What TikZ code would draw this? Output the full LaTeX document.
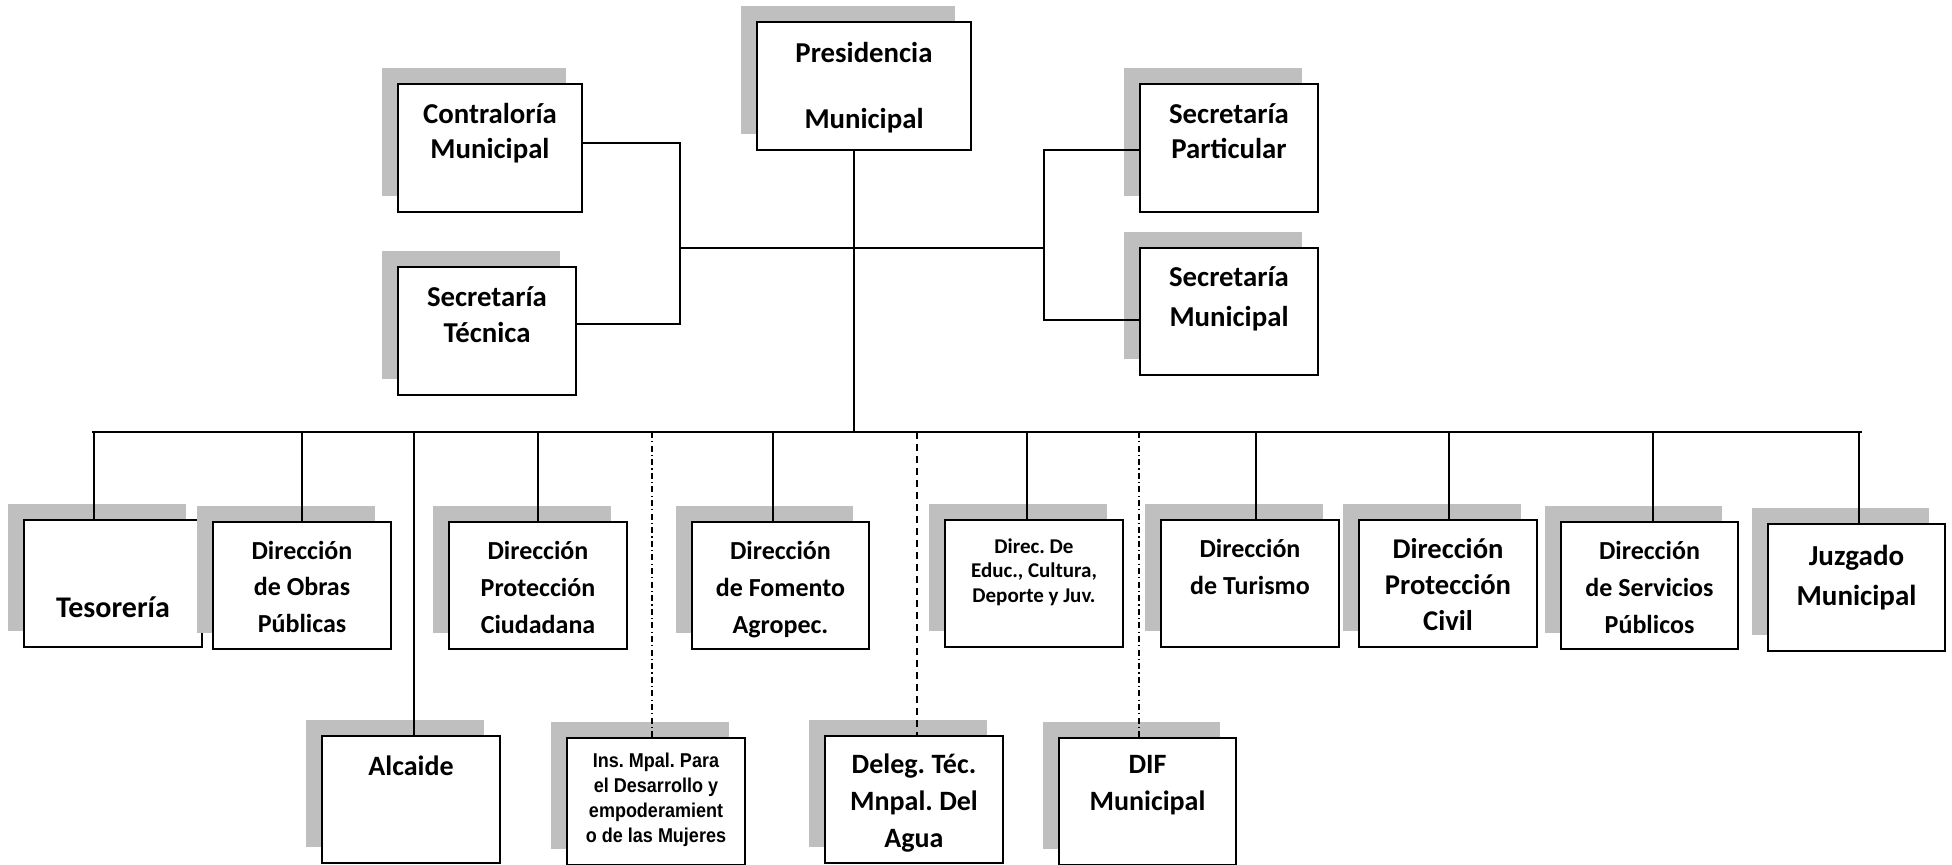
\documentclass[tikz,border=0pt]{standalone}
\usepackage{fontspec}
\setmainfont{Carlito}
\newfontfamily\narrowfont[FakeStretch=0.9]{Liberation Sans}
\usetikzlibrary{shadows}
\frenchspacing
\definecolor{shadowgray}{RGB}{191,191,191}
\newcommand\bxt[3]{\parbox[t]{92pt}{\centering\fontsize{#1}{#2}\selectfont\bfseries #3}}
\newcommand\bxn[3]{\parbox[t]{92pt}{\centering\narrowfont\fontsize{#1}{#2}\selectfont\bfseries #3}}
\tikzset{
  orgbox/.style={draw, line width=0.9pt, fill=white, inner sep=0pt,
    minimum width=89pt, minimum height=63.5pt,
    drop shadow={shadow xshift=-8pt, shadow yshift=8pt, fill=shadowgray, opacity=1}},
  lbl/.style={inner sep=0pt, anchor=base},
  conn/.style={line width=0.7pt},
  busline/.style={line width=0.9pt},
  dashdotline/.style={line width=0.7pt, dash pattern=on 3pt off 1.6pt on 0.6pt off 1.6pt},
  dashline/.style={line width=0.7pt, dash pattern=on 3.5pt off 2.5pt},
}
\begin{document}
\begin{tikzpicture}[x=0.5pt,y=-0.5pt]
\useasboundingbox (0,0) rectangle (1952,864);
% top boxes
\node[orgbox, minimum width=107pt, minimum height=64pt] (pres) at (864,86) {};
\node[orgbox, minimum width=92pt, minimum height=64pt] (con) at (490,148) {};
\node[orgbox, minimum height=64pt] (tec) at (487,331) {};
\node[orgbox, minimum height=64pt] (par) at (1229,148) {};
\node[orgbox] (smu) at (1229,311.5) {};
% bottom row 1
\node[orgbox] (tes) at (113,583.5) {};
\node[orgbox] (obr) at (302,585.5) {};
\node[orgbox] (ciu) at (538,585.5) {};
\node[orgbox, minimum width=88.5pt] (fom) at (780.5,585.5) {};
\node[orgbox] (edu) at (1034,583.5) {};
\node[orgbox] (tur) at (1250,583.5) {};
\node[orgbox] (civ) at (1448,583.5) {};
\node[orgbox, minimum width=88.5pt] (ser) at (1649.5,585.5) {};
\node[orgbox, minimum width=88.5pt] (juz) at (1856.5,587.5) {};
% bottom row 2
\node[orgbox] (alc) at (411,799.5) {};
\node[orgbox] (ins) at (656,801.5) {};
\node[orgbox] (del) at (914,799.5) {};
\node[orgbox, minimum width=88.5pt] (dif) at (1147.5,801.5) {};
% texts
\node[lbl] (presT) at (864,62) {\bxt{14.4}{33}{Presidencia\\Municipal}};
\node[lbl] (conT) at (490,123) {\bxt{14.4}{17.5}{Contraloría\\Municipal}};
\node[lbl] (tecT) at (487,306) {\bxt{14.4}{18}{Secretaría\\Técnica}};
\node[lbl] (parT) at (1229,123) {\bxt{14.4}{17.5}{Secretaría\\Particular}};
\node[lbl] (smuT) at (1229,286) {\bxt{14.4}{20}{Secretaría\\Municipal}};
\node[lbl] (tesT) at (113,617) {\bxt{15}{18}{Tesorería}};
\node[lbl] (obrT) at (302,559) {\bxt{13}{18.3}{Dirección\\de Obras\\Públicas}};
\node[lbl] (ciuT) at (538,559) {\bxt{13}{18.5}{Dirección\\Protección\\Ciudadana}};
\node[lbl] (fomT) at (780.5,559) {\bxt{13}{18.5}{Dirección\\de Fomento\\Agropec.}};
\node[lbl] (eduT) at (1034,553) {\bxt{10.5}{12.4}{Direc. De\\Educ., Cultura,\\Deporte y Juv.}};
\node[lbl] (turT) at (1250,557) {\bxt{13}{18.5}{Dirección\\de Turismo}};
\node[lbl] (civT) at (1448,558) {\bxt{14.3}{18}{Dirección\\Protección\\Civil}};
\node[lbl] (serT) at (1649.5,559) {\bxt{13}{18.5}{Dirección\\de Servicios\\Públicos}};
\node[lbl] (juzT) at (1856.5,565) {\bxt{14.5}{20}{Juzgado\\Municipal}};
\node[lbl] (alcT) at (411,775) {\bxt{14}{18}{Alcaide}};
\node[lbl] (insT) at (656,767) {\bxn{10}{12.5}{Ins. Mpal. Para\\el Desarrollo y\\empoderamient\\o de las Mujeres}};
\node[lbl] (delT) at (914,773) {\bxt{14}{18.5}{Deleg. Téc.\\Mnpal. Del\\Agua}};
\node[lbl] (difT) at (1147.5,773) {\bxt{14}{18.5}{DIF\\Municipal}};
% junctions
\coordinate (jl) at (680,248);
\coordinate (jr) at (1044,248);
\coordinate (busL) at (92,432);
\coordinate (busR) at (1862,432);
\coordinate (conP) at ([yshift=2.5pt]con.east);
\coordinate (tecP) at ([yshift=3.5pt]tec.east);
\coordinate (parP) at ([yshift=-1pt]par.west);
\coordinate (smuP) at ([yshift=-4.25pt]smu.west);
\coordinate (presB) at ([xshift=-5pt]pres.south);
% top connectors
\draw[conn] (conP) -| (jl);
\draw[conn] (tecP) -| (jl);
\draw[conn] (jl) -- (jr);
\draw[conn] (parP) -| (jr);
\draw[conn] (smuP) -| (jr);
\draw[conn] (presB) -- (presB |- busL);
\draw[busline] (busL) -- (busR);
% drops
\coordinate (tesC) at ([xshift=-9.5pt]tes.north);
\coordinate (obrC) at (obr.north);
\coordinate (alcC) at ([xshift=1.5pt]alc.north);
\coordinate (ciuC) at (ciu.north);
\coordinate (insC) at ([xshift=-2pt]ins.north);
\coordinate (fomC) at ([xshift=-3.75pt]fom.north);
\coordinate (delC) at ([xshift=1.5pt]del.north);
\coordinate (eduC) at ([xshift=-3.5pt]edu.north);
\coordinate (difC) at ([xshift=-4.25pt]dif.north);
\coordinate (turC) at ([xshift=3pt]tur.north);
\coordinate (civC) at ([xshift=0.5pt]civ.north);
\coordinate (serC) at ([xshift=1.75pt]ser.north);
\coordinate (juzC) at ([xshift=1.25pt]juz.north);
\foreach \c in {tesC,obrC,alcC,ciuC,fomC,eduC,turC,civC,serC,juzC}
  \draw[conn] (\c |- busL) -- (\c);
\draw[dashdotline] (insC |- busL) -- (insC);
\draw[dashline] (delC |- busL) -- (delC);
\draw[dashdotline] (difC |- busL) -- (difC);
\end{tikzpicture}
\end{document}
